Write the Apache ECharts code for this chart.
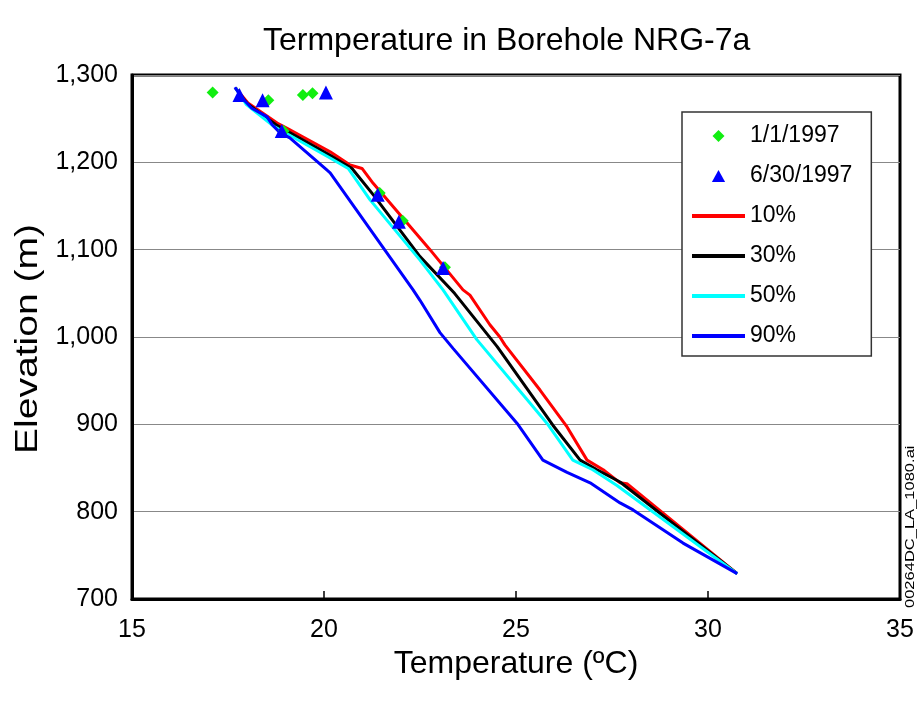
<!DOCTYPE html>
<html>
<head>
    <meta http-equiv="Content-Type" content="text/html; charset=utf-8" />
    <script type="text/javascript" src="https://cdn.jsdelivr.net/npm/echarts@6/dist/echarts.min.js"></script>
</head>
<body style="margin:0; background:#fff;">
    <div id="chartDom" style="position: absolute; width: 920px; height: 704px;"></div>

    <script type="text/javascript">
        // temperature (C), elevation (m) pairs
        var jan1997 = [[17.1, 1280], [18.55, 1271], [19.45, 1277], [19.7, 1279], [18.95, 1236], [21.45, 1165], [22.05, 1133], [23.15, 1080]];
        var jun1997 = [[17.8, 1277], [18.4, 1271], [18.9, 1236], [20.05, 1280], [21.4, 1163], [21.95, 1132], [23.1, 1079]];

        var p10 = [[17.7, 1285], [18.02, 1268], [18.78, 1245], [19.04, 1239], [20.16, 1212], [20.68, 1197], [20.99, 1193],
            [21.28, 1176], [22.76, 1100], [23.62, 1054], [23.8, 1048], [24.32, 1014], [24.58, 1000], [24.71, 991],
            [25.63, 939], [26.33, 897], [26.85, 859], [27.27, 848], [27.71, 833], [27.89, 832], [30.76, 729]];
        var p30 = [[17.7, 1285], [18.0, 1267], [18.75, 1243], [20.16, 1208], [20.73, 1193], [21.28, 1163], [22.5, 1092],
            [23.4, 1050], [24.51, 989], [25.96, 899], [26.67, 859], [27.11, 848], [27.71, 834], [30.76, 729]];
        var p50 = [[17.7, 1285], [17.98, 1266], [18.7, 1241], [20.16, 1205], [20.63, 1193], [21.2, 1157], [22.5, 1088],
            [23.1, 1054], [23.98, 997], [25.81, 901], [26.48, 859], [27.0, 848], [27.63, 830], [30.76, 729]];
        var p90 = [[17.68, 1286], [17.86, 1274], [18.12, 1262], [18.52, 1252], [18.65, 1243], [18.85, 1234], [19.11, 1228],
            [20.08, 1191], [20.16, 1188], [22.32, 1054], [22.5, 1042], [23.02, 1005], [23.36, 987], [25.03, 901],
            [25.7, 859], [26.33, 845], [26.93, 833], [27.71, 810], [28.05, 802], [29.35, 764], [30.76, 729]];

        var legendNames = ['1/1/1997', '6/30/1997', '10%', '30%', '50%', '90%'];

        var font = 'Liberation Sans, Arial, sans-serif';

        // path icons keep their aspect inside the wide legend slot
        var diamondIcon = 'path://M5,0L10,5L5,10L0,5Z';
        var triangleIcon = 'path://M5.5,0L11,10L0,10Z';

        var myChart = echarts.init(document.getElementById("chartDom"));
        var option = {
            animation: false,
            backgroundColor: '#fff',
            title: {
                text: 'Termperature in Borehole NRG-7a',
                left: 258,
                top: 20,
                textStyle: { fontFamily: font, fontSize: 32, fontWeight: 'normal', color: '#000' }
            },
            grid: {
                left: 132, right: 20, top: 75, bottom: 105,
                show: true, borderColor: '#000', borderWidth: 3, backgroundColor: '#fff'
            },
            legend: {
                orient: 'vertical',
                left: 682, top: 112,
                padding: [12, 19, 8, 8],
                backgroundColor: '#fff',
                borderColor: '#333',
                borderWidth: 1.5,
                itemWidth: 53,
                itemHeight: 12,
                itemGap: 16,
                symbolKeepAspect: true,
                textStyle: { fontFamily: font, fontSize: 23, lineHeight: 24, color: '#000' },
                data: legendNames.map(function (n, i) {
                    if (i === 0) return { name: n, icon: diamondIcon };
                    if (i === 1) return { name: n, icon: triangleIcon };
                    return { name: n, itemStyle: { opacity: 0 }, lineStyle: { width: 4 } };
                })
            },
            xAxis: {
                type: 'value',
                min: 15, max: 35, interval: 5,
                name: 'Temperature (\u00baC)',
                nameLocation: 'middle',
                nameGap: 36,
                nameTextStyle: { fontFamily: font, fontSize: 32, color: '#000' },
                axisLine: { lineStyle: { color: '#000', width: 3 } },
                axisTick: { inside: true, length: 8, lineStyle: { color: '#000', width: 1.5 } },
                axisLabel: { fontFamily: font, fontSize: 25, color: '#000', margin: 19 },
                splitLine: { show: false }
            },
            yAxis: {
                type: 'value',
                min: 700, max: 1300, interval: 100,
                axisLine: { lineStyle: { color: '#000', width: 3 } },
                axisTick: { show: false },
                axisLabel: {
                    fontFamily: font, fontSize: 25, color: '#000', margin: 14,
                    formatter: function (v) { return v.toLocaleString('en-US'); }
                },
                splitLine: { lineStyle: { color: '#888', width: 1.2 } }
            },
            series: [
                {
                    name: legendNames[0], type: 'scatter', data: jan1997, z: 4,
                    symbol: 'diamond', symbolSize: 12,
                    itemStyle: { color: '#11ee11', opacity: 1 }
                },
                {
                    name: legendNames[1], type: 'scatter', data: jun1997, z: 5,
                    symbol: 'triangle', symbolSize: 14,
                    itemStyle: { color: '#0000ff', opacity: 1 }
                },
                {
                    name: legendNames[2], type: 'line', data: p10, symbol: 'none', z: 3,
                    lineStyle: { color: '#ff0000', width: 3 }, itemStyle: { color: '#ff0000' }
                },
                {
                    name: legendNames[3], type: 'line', data: p30, symbol: 'none', z: 3,
                    lineStyle: { color: '#000000', width: 3 }, itemStyle: { color: '#000000' }
                },
                {
                    name: legendNames[4], type: 'line', data: p50, symbol: 'none', z: 3,
                    lineStyle: { color: '#00ffff', width: 3 }, itemStyle: { color: '#00ffff' }
                },
                {
                    name: legendNames[5], type: 'line', data: p90, symbol: 'none', z: 3,
                    lineStyle: { color: '#0000ff', width: 3 }, itemStyle: { color: '#0000ff' }
                }
            ],
            graphic: [
                {
                    // y axis name, drawn a bit stretched along its length like the source
                    type: 'text',
                    x: 28, y: 339,
                    rotation: Math.PI / 2,
                    scaleX: 1.22,
                    style: {
                        text: 'Elevation (m)', font: '32px ' + font, fill: '#000',
                        textAlign: 'center', textVerticalAlign: 'middle'
                    }
                },
                {
                    type: 'text',
                    x: 904, y: 608,
                    rotation: Math.PI / 2,
                    scaleX: 1.27,
                    style: { text: '00264DC_LA_1080.ai', font: '13px ' + font, fill: '#000', textVerticalAlign: 'top' }
                }
            ]
        };
        myChart.setOption(option);

        window.onresize = myChart.resize;
    </script>
</body>
</html>
